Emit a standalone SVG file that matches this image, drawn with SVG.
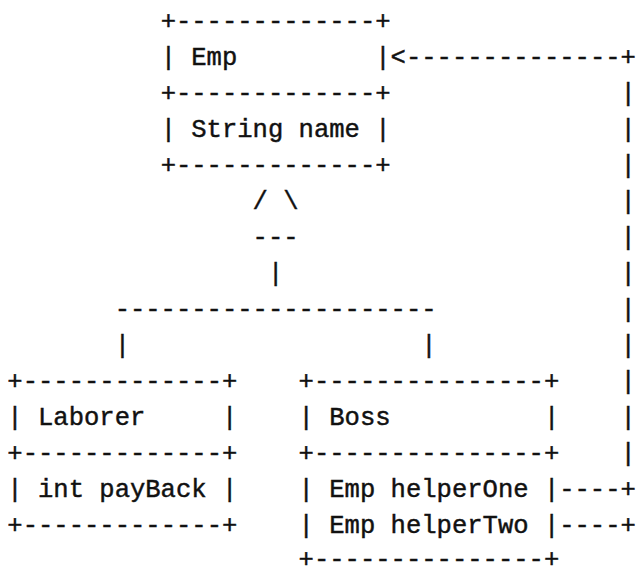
<svg xmlns="http://www.w3.org/2000/svg" width="637" height="568" viewBox="0 0 637 568">
<style>
.t{font-family:"Liberation Mono","Courier New",monospace;font-size:25.55px;fill:#111;stroke:#111;stroke-width:0.45px}
</style>
<rect width="637" height="568" fill="#fff"/>
<g id="emp" class="t">
<text x="160.63" y="28.5">+-------------+</text>
<text x="160.63" y="64.5">|</text>
<text x="191.29" y="64.5">Emp</text>
<text x="375.25" y="64.5">|</text>
<text x="160.63" y="100.5">+-------------+</text>
<text x="160.63" y="136.5">|</text>
<text x="191.29" y="136.5">String</text>
<text x="298.6" y="136.5">name</text>
<text x="375.25" y="136.5">|</text>
<text x="160.63" y="172.5">+-------------+</text>
</g>
<g id="laborer" class="t">
<text x="7.33" y="388.5">+-------------+</text>
<text x="7.33" y="424.5">|</text>
<text x="37.99" y="424.5">Laborer</text>
<text x="221.95" y="424.5">|</text>
<text x="7.33" y="460.5">+-------------+</text>
<text x="7.33" y="496.5">|</text>
<text x="37.99" y="496.5">int</text>
<text x="99.31" y="496.5">payBack</text>
<text x="221.95" y="496.5">|</text>
<text x="7.33" y="532.5">+-------------+</text>
</g>
<g id="boss" class="t">
<text x="298.6" y="388.5">+---------------+</text>
<text x="298.6" y="424.5">|</text>
<text x="329.26" y="424.5">Boss</text>
<text x="543.88" y="424.5">|</text>
<text x="298.6" y="460.5">+---------------+</text>
<text x="298.6" y="496.5">|</text>
<text x="329.26" y="496.5">Emp</text>
<text x="390.58" y="496.5">helperOne</text>
<text x="543.88" y="496.5">|</text>
<text x="298.6" y="532.5">|</text>
<text x="329.26" y="532.5">Emp</text>
<text x="390.58" y="532.5">helperTwo</text>
<text x="543.88" y="532.5">|</text>
<text x="298.6" y="567">+---------------+</text>
</g>
<g id="connectors" class="t">
<text x="252.61" y="208.5">/</text>
<text x="283.27" y="208.5">\</text>
<text x="252.61" y="244.5">---</text>
<text x="267.94" y="280.5">|</text>
<text x="114.64" y="316.5">---------------------</text>
<text x="114.64" y="352.5">|</text>
<text x="421.24" y="352.5">|</text>
<text x="390.58" y="64.5">&lt;--------------+</text>
<text x="620.53" y="100.5">|</text>
<text x="620.53" y="136.5">|</text>
<text x="620.53" y="172.5">|</text>
<text x="620.53" y="208.5">|</text>
<text x="620.53" y="244.5">|</text>
<text x="620.53" y="280.5">|</text>
<text x="620.53" y="316.5">|</text>
<text x="620.53" y="352.5">|</text>
<text x="620.53" y="388.5">|</text>
<text x="620.53" y="424.5">|</text>
<text x="620.53" y="460.5">|</text>
<text x="559.21" y="496.5">----+</text>
<text x="559.21" y="532.5">----+</text>
</g>
</svg>
